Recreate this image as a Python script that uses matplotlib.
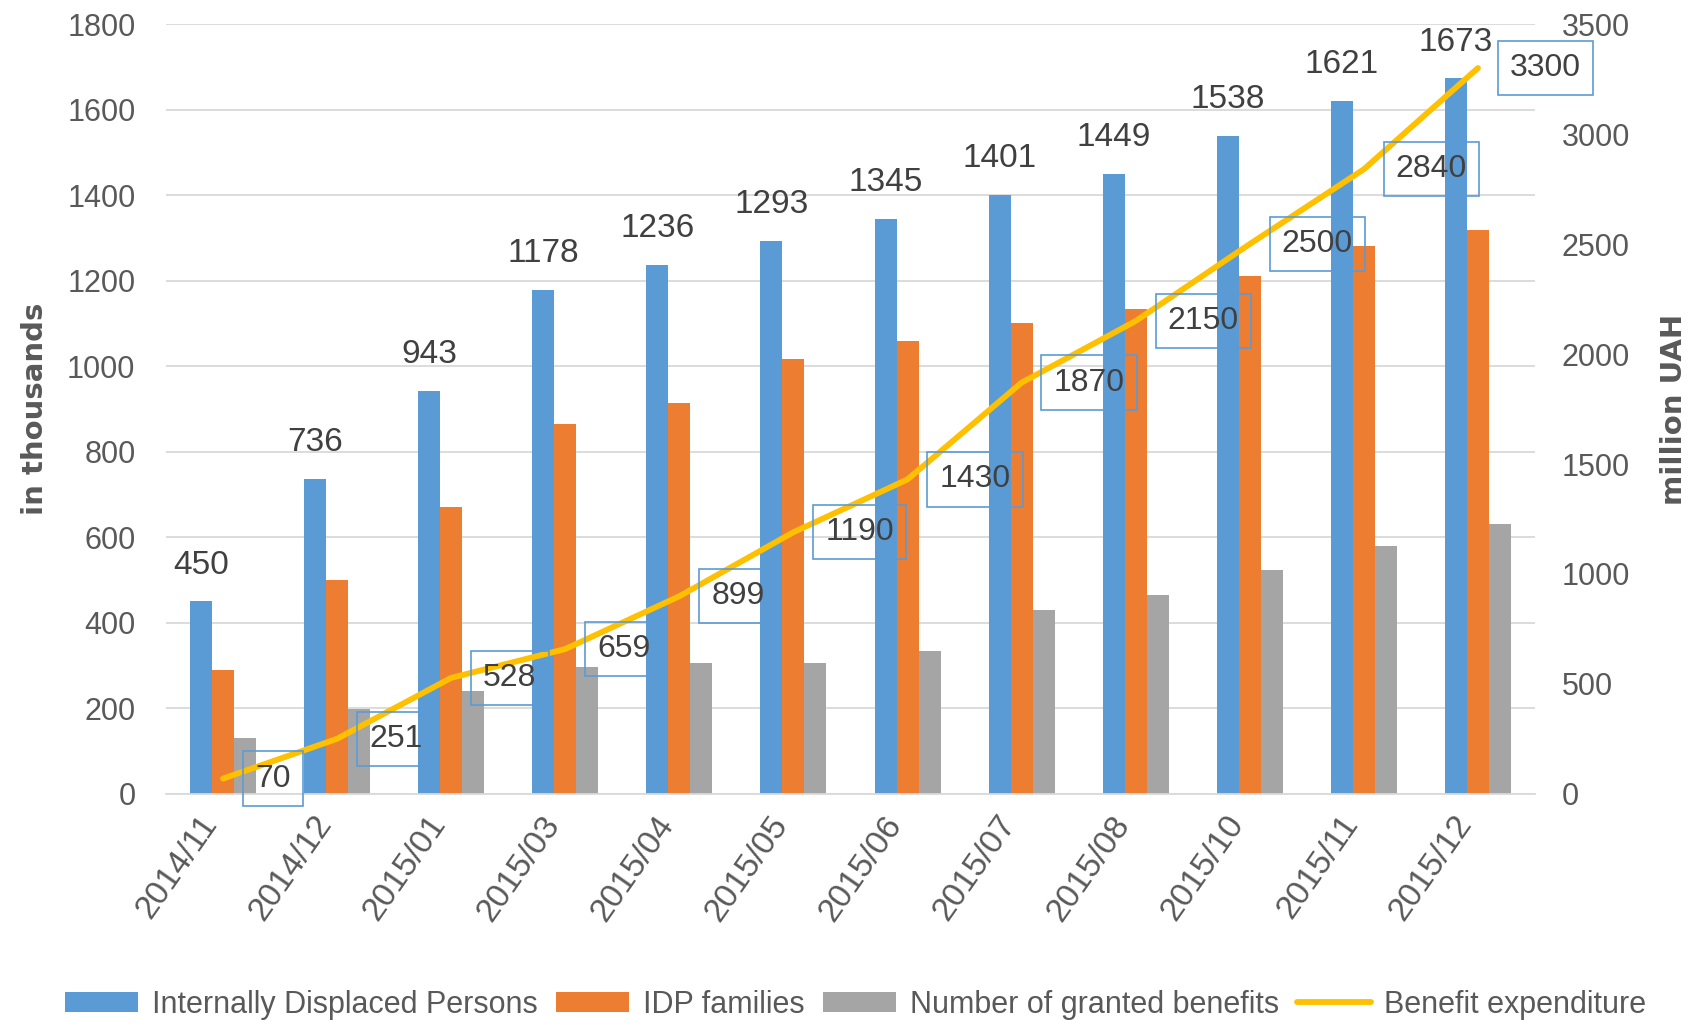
import numpy as np
import matplotlib
matplotlib.use("Agg")
import matplotlib.pyplot as plt
import matplotlib.transforms as mtransforms

# data
months = ["2014/11", "2014/12", "2015/01", "2015/03", "2015/04", "2015/05",
          "2015/06", "2015/07", "2015/08", "2015/10", "2015/11", "2015/12"]
idp = [450, 736, 943, 1178, 1236, 1293, 1345, 1401, 1449, 1538, 1621, 1673]
families = [291, 500, 670, 866, 913, 1018, 1058, 1101, 1134, 1210, 1281, 1318]
granted = [130, 198, 240, 298, 306, 306, 334, 429, 466, 523, 580, 631]
expenditure = [70, 251, 528, 659, 899, 1190, 1430, 1870, 2150, 2500, 2840, 3300]

blue = "#5B9BD5"
orange = "#ED7D31"
gray = "#A5A5A5"
yellow = "#FFC000"
txt = "#595959"

plt.rcParams['font.family'] = ['Liberation Sans', 'DejaVu Sans']

fig = plt.figure(figsize=(17.01, 10.22), dpi=100)
ax = fig.add_axes([0.0976, 0.2231, 0.8048, 0.7534])
ax2 = ax.twinx()

x = np.arange(len(months))
w = 0.193
ax.bar(x - w, idp, w, color=blue, label="Internally Displaced Persons", zorder=2)
ax.bar(x, families, w, color=orange, label="IDP families", zorder=2)
ax.bar(x + w, granted, w, color=gray, label="Number of granted benefits", zorder=2)

for xi, v in zip(x, idp):
    ax.annotate(str(v), (xi - w, v), xytext=(0, 20), textcoords="offset points",
                ha="center", va="baseline", fontsize=24, color="#404040")

ax.set_xlim(-0.5, len(months) - 0.5)
ax.set_ylim(0, 1800)
ax.set_yticks(np.arange(0, 1801, 200))
ax.grid(axis="y", color="#D9D9D9", lw=1.3, zorder=0)
ax.set_axisbelow(True)
ax.set_xticks(x)
ax.set_xticklabels(months, rotation=55, ha="right", va="center", rotation_mode="anchor")
ax.tick_params(axis="x", length=0, pad=18, labelsize=24, labelcolor=txt)
ax.tick_params(axis="y", length=0, pad=22, labelsize=22, labelcolor=txt)
# nudge the slanted month labels a little to the left, as in the original
shift = mtransforms.ScaledTranslation(-0.12, 0, fig.dpi_scale_trans)
for lab in ax.get_xticklabels():
    lab.set_transform(lab.get_transform() + shift)

ln, = ax2.plot(x, expenditure, color=yellow, lw=4.2, solid_capstyle="round",
               solid_joinstyle="round", label="Benefit expenditure", zorder=3)
for xi, v in zip(x, expenditure):
    ax2.annotate(str(v), (xi, v), xytext=(23, 0), textcoords="offset points",
                 ha="left", va="center", fontsize=23, color="#404040",
                 bbox=dict(boxstyle="square,pad=0.38", fc="none", ec=blue, lw=1.2))
ax2.set_ylim(0, 3500)
ax2.set_yticks(np.arange(0, 3501, 500))
ax2.tick_params(axis="y", length=0, pad=19, labelsize=22, labelcolor=txt)

for a in (ax, ax2):
    for s in ["top", "left", "right"]:
        a.spines[s].set_visible(False)
    a.spines["bottom"].set_color("#D9D9D9")
    a.spines["bottom"].set_linewidth(1.3)
ax2.spines["bottom"].set_visible(False)

ax.set_ylabel("in thousands", fontsize=21, color=txt, family="DejaVu Sans",
              fontweight="bold")
ax.yaxis.set_label_coords(-0.0855, 0.5)
ax2.set_ylabel("million UAH", fontsize=21, color=txt, family="DejaVu Sans",
               fontweight="bold")
ax2.yaxis.set_label_coords(1.091, 0.5)

h1, l1 = ax.get_legend_handles_labels()
fig.legend(h1 + [ln], l1 + ["Benefit expenditure"], loc="center", ncol=4,
           bbox_to_anchor=(0.503, 0.017), frameon=False, fontsize=22,
           labelcolor=txt, handlelength=2.4, handleheight=0.65,
           handletextpad=0.45, columnspacing=0.6, borderpad=0)

fig.savefig("out.png", dpi=100)
